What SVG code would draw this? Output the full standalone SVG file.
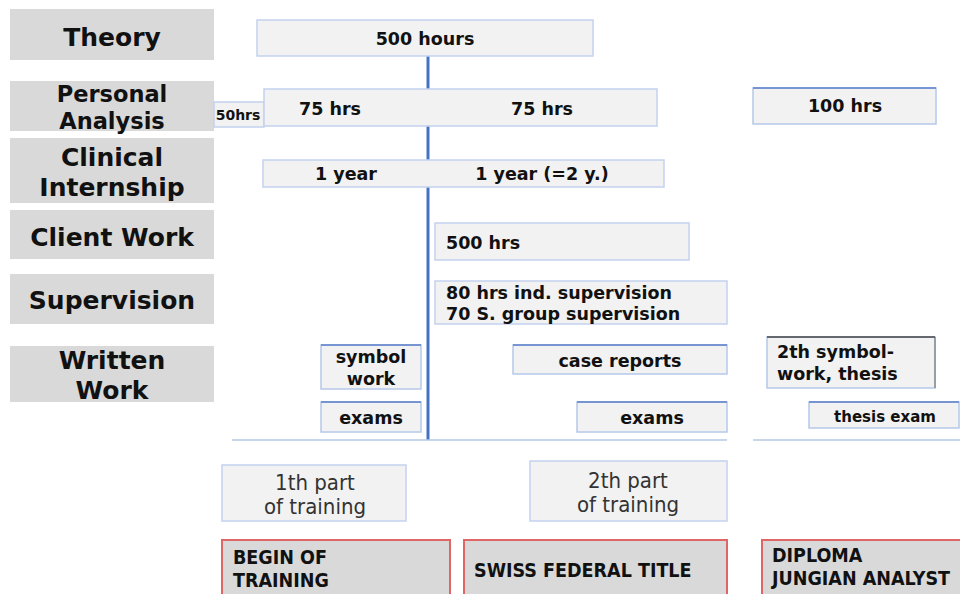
<svg xmlns="http://www.w3.org/2000/svg" width="960" height="594" viewBox="0 0 960 594">
<style>
.lab{fill:#d9d9d9}
.lt{font-family:"DejaVu Sans",Verdana,sans-serif;font-weight:bold;font-size:25px;fill:#111;text-anchor:middle}
.box{fill:#f2f2f2;stroke:#c3d2f0;stroke-width:1.5}
.boxd{fill:#f2f2f2;stroke:#b7c8ea;stroke-width:1.5}
.top{stroke:#5b7fc9;stroke-width:1.5}
.bt{font-family:"DejaVu Sans",Verdana,sans-serif;font-weight:bold;font-size:17.5px;fill:#111}
.m{text-anchor:middle}
.part{font-family:"DejaVu Sans Condensed","DejaVu Sans",sans-serif;font-stretch:condensed;font-size:22px;fill:#333;text-anchor:middle}
.red{fill:#d9d9d9;stroke:#e06666;stroke-width:2}
.rt{font-family:"DejaVu Sans Condensed","DejaVu Sans",sans-serif;font-stretch:condensed;font-weight:bold;font-size:19.5px;fill:#111}
</style>
<rect width="960" height="594" fill="#fff"/>
<g id="labels">
<g id="lab-theory"><rect class="lab" x="10" y="9" width="204" height="51"/><text class="lt" x="112" y="46">Theory</text></g>
<g id="lab-analysis"><rect class="lab" x="10" y="81" width="204" height="50"/><text class="lt" x="112" y="102" style="font-size:22.5px">Personal</text><text class="lt" x="112" y="129" style="font-size:22.5px">Analysis</text></g>
<g id="lab-internship"><rect class="lab" x="10" y="138" width="204" height="65"/><text class="lt" x="112" y="166">Clinical</text><text class="lt" x="112" y="196">Internship</text></g>
<g id="lab-client"><rect class="lab" x="10" y="210" width="204" height="49"/><text class="lt" x="112" y="246">Client Work</text></g>
<g id="lab-supervision"><rect class="lab" x="10" y="274" width="204" height="50"/><text class="lt" x="112" y="309">Supervision</text></g>
<g id="lab-written"><rect class="lab" x="10" y="346" width="204" height="56"/><text class="lt" x="112" y="369">Written</text><text class="lt" x="112" y="399">Work</text></g>
</g>
<g id="connectors">
<line x1="428" y1="56" x2="428" y2="440" stroke="#4472c4" stroke-width="3"/>
<line x1="232" y1="440" x2="727" y2="440" stroke="#b4c7e7" stroke-width="1.5"/>
<line x1="753" y1="440" x2="960" y2="440" stroke="#b4c7e7" stroke-width="1.5"/>
</g>
<g id="n-theory"><rect class="box" x="257" y="20" width="336" height="36"/><text class="bt m" x="425" y="45">500 hours</text></g>
<g id="n-50hrs"><rect class="box" x="214" y="102" width="50" height="25"/><text class="bt m" x="238" y="120" style="font-size:14px">50hrs</text></g>
<g id="n-75hrs"><rect class="box" x="264" y="89" width="393" height="37"/><text class="bt m" x="330" y="115">75 hrs</text><text class="bt m" x="542" y="115">75 hrs</text></g>
<g id="n-100hrs"><rect class="boxd" x="753" y="88" width="183" height="36"/><line class="top" x1="753" y1="88" x2="936" y2="88"/><text class="bt m" x="845" y="112">100 hrs</text></g>
<g id="n-year"><rect class="box" x="263" y="160" width="401" height="27"/><text class="bt m" x="346" y="180">1 year</text><text class="bt m" x="542" y="180">1 year (=2 y.)</text></g>
<g id="n-client"><rect class="box" x="435" y="223" width="254" height="37"/><text class="bt" x="446" y="249">500 hrs</text></g>
<g id="n-supervision"><rect class="box" x="435" y="281" width="292" height="43"/><text class="bt" x="446" y="299">80 hrs ind. supervision</text><text class="bt" x="446" y="320">70 S. group supervision</text></g>
<g id="n-symbol"><rect class="boxd" x="321" y="345" width="100" height="44"/><line class="top" x1="321" y1="345" x2="421" y2="345"/><text class="bt m" x="371" y="363">symbol</text><text class="bt m" x="371" y="385">work</text></g>
<g id="n-case"><rect class="boxd" x="513" y="345" width="214" height="29"/><line class="top" x1="513" y1="345" x2="727" y2="345"/><text class="bt m" x="620" y="367">case reports</text></g>
<g id="n-thesis"><rect class="boxd" x="767" y="337" width="168" height="51"/><line x1="767" y1="337" x2="935" y2="337" stroke="#444" stroke-width="1.5"/><line x1="935" y1="337" x2="935" y2="388" stroke="#666" stroke-width="1"/><text class="bt" x="777" y="358">2th symbol-</text><text class="bt" x="777" y="380">work, thesis</text></g>
<g id="n-exams1"><rect class="boxd" x="321" y="402" width="100" height="30"/><line class="top" x1="321" y1="402" x2="421" y2="402"/><text class="bt m" x="371" y="424">exams</text></g>
<g id="n-exams2"><rect class="boxd" x="577" y="402" width="150" height="30"/><line class="top" x1="577" y1="402" x2="727" y2="402"/><text class="bt m" x="652" y="424">exams</text></g>
<g id="n-thesisexam"><rect class="boxd" x="809" y="402" width="150" height="26"/><line class="top" x1="809" y1="402" x2="959" y2="402"/><text class="bt m" x="885" y="422" style="font-size:15px">thesis exam</text></g>
<g id="n-part1"><rect class="box" x="222" y="465" width="184" height="56"/><text class="part" x="315" y="490">1th part</text><text class="part" x="315" y="514">of training</text></g>
<g id="n-part2"><rect class="box" x="530" y="461" width="197" height="60"/><text class="part" x="628" y="488">2th part</text><text class="part" x="628" y="512">of training</text></g>
<g id="n-begin"><rect class="red" x="222" y="540" width="228" height="60"/><text class="rt" x="233" y="564">BEGIN OF</text><text class="rt" x="233" y="587">TRAINING</text></g>
<g id="n-swiss"><rect class="red" x="464" y="540" width="263" height="60"/><text class="rt" x="474" y="577">SWISS FEDERAL TITLE</text></g>
<g id="n-diploma"><rect class="red" x="762" y="540" width="200" height="60"/><text class="rt" x="772" y="562">DIPLOMA</text><text class="rt" x="772" y="585">JUNGIAN ANALYST</text></g>
</svg>
